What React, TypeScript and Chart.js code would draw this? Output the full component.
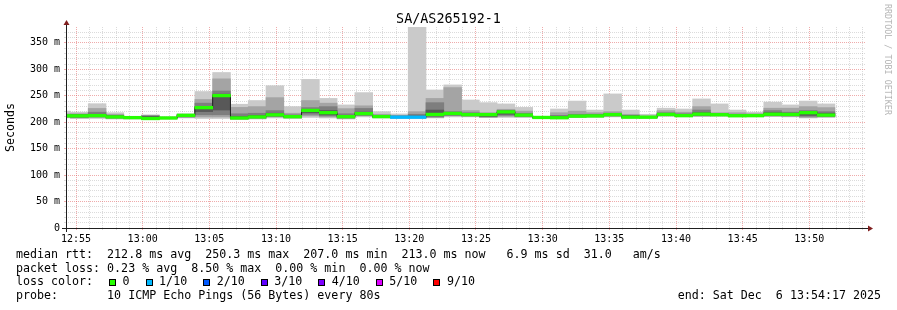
import React, { useEffect, useRef } from 'react';
import { Chart, registerables } from 'chart.js';

Chart.register(...registerables);

// ---------- text ----------
const TITLE = 'SA/AS265192-1';
const Y_AXIS_TITLE = 'Seconds';
const WATERMARK = 'RRDTOOL / TOBI OETIKER';
const statsLine = 'median rtt:  212.8 ms avg  250.3 ms max  207.0 ms min  213.0 ms now   6.9 ms sd  31.0   am/s';
const lossLine = 'packet loss: 0.23 % avg  8.50 % max  0.00 % min  0.00 % now';
const lossColorLabel = 'loss color:';
const probeLine = 'probe:       10 ICMP Echo Pings (56 Bytes) every 80s';
const endLine = 'end: Sat Dec  6 13:54:17 2025';

// ---------- axes ----------
const VIEW_START = '12:54:15';
const VIEW_END = '13:54:15';
const FIRST_BIN_START = '12:53:15';
const BIN_SECONDS = 80;
const xTickLabels = ['12:55', '13:00', '13:05', '13:10', '13:15', '13:20', '13:25', '13:30', '13:35', '13:40', '13:45', '13:50'];
const yTickValues = [0, 50, 100, 150, 200, 250, 300, 350];
const yTickLabels = ['0', '50 m', '100 m', '150 m', '200 m', '250 m', '300 m', '350 m'];
const Y_MAX = 380;

// ---------- data (ms), one entry per 80 s bin ----------
const rttMax = [221, 219, 235, 218, 211, 214, 210, 216, 258, 294, 234, 241, 269, 229.5, 281, 245, 232.7, 256, 220, 215.7, 380, 261, 270.5, 242, 237, 234.6, 228, 211, 225, 240, 223, 253.5, 223, 215, 226.5, 225, 244, 234.6, 223, 219, 238, 232.7, 240, 234.6];
const rtt9 = [216, 216, 226, 215, 210.5, 213, 209.5, 215, 243, 282, 228, 229.5, 246.5, 217, 241, 236, 225.7, 231, 215, 213, 220, 245, 265.5, 222, 218, 224.5, 221, 210.5, 218, 221, 218, 220, 215, 212, 222, 219, 229.5, 218, 218, 216, 226.5, 226.5, 229.5, 227.6];
const rtt8 = [214, 215, 219, 213, 210, 212, 209, 214.5, 236, 259, 216, 217, 222, 214, 227.6, 229.5, 216, 226, 213, 212, 215, 237, 220, 218, 216, 222, 217, 210, 213, 215, 215, 217, 213, 211, 218, 216, 223, 216.5, 215, 215, 222, 219, 222, 220];
const rtt7 = [213, 214, 215, 212, 209.5, 211, 208.5, 214, 230, 253, 211, 213, 217, 212.5, 224, 222, 212, 219, 212, 211, 212, 223, 218, 216, 215, 221, 215, 209.5, 211, 213, 213.5, 215.5, 212, 210.5, 216.5, 214.5, 218, 215.5, 214, 214, 218, 217, 220, 217];
const median = [212, 212, 212.5, 210, 208.7, 207, 208, 213, 227.6, 250.3, 208, 210, 214, 210.5, 222.3, 218, 210.5, 216.3, 210.6, 209.5, 209.5, 214.7, 216.6, 214.4, 214.4, 219.5, 213.5, 209, 208.5, 211.5, 211.9, 214.4, 209.6, 209.5, 214.7, 212.5, 215.3, 214.2, 212.3, 212.5, 215.1, 214.7, 218, 213.5];
const rtt4 = [211, 210, 211, 209, 208, 206.5, 207.5, 211, 220, 223, 207, 209, 212, 209.5, 218, 214, 209, 214, 209.5, 209, 209, 212, 214, 213, 211, 215, 212, 208.5, 208, 210.5, 211, 213, 209, 209, 213.5, 211.5, 213.5, 213, 211.5, 211.5, 213.5, 213, 213, 212];
const rtt3 = [210, 209, 210, 208, 207.5, 206, 207, 210, 214, 214, 206.5, 208, 211, 209, 215, 212, 208, 213, 209, 208.5, 208.5, 210, 213, 212, 210, 213, 211, 208, 207.5, 210, 210.5, 212, 208.5, 208.5, 213, 211, 212.5, 212.5, 211, 211, 212.5, 212, 211, 211];
const rtt2 = [209, 208, 209, 207, 207, 205.5, 206.5, 209, 210, 210, 206, 207, 210, 208, 212, 210, 207, 212, 208.5, 208, 208, 209, 212, 211, 209.5, 211, 210, 207.5, 207, 209.5, 210, 211, 208, 208, 212, 210.5, 211.5, 212, 210.5, 210.5, 211.5, 211, 209, 210];
const rttMin = [208, 207, 207, 206, 206, 205, 206, 208, 207, 207, 205, 206, 208, 207, 209, 208, 206, 210, 208, 207.5, 207.5, 208, 210, 210, 209, 209, 209, 207, 206.5, 209, 209, 210, 207.5, 207.5, 211, 210, 210.5, 211, 210, 210, 210.5, 210, 208, 209];
const lossTenths = [0, 0, 0, 0, 0, 0, 0, 0, 0, 0, 0, 0, 0, 0, 0, 0, 0, 0, 0, 1, 1, 0, 0, 0, 0, 0, 0, 0, 0, 0, 0, 0, 0, 0, 0, 0, 0, 0, 0, 0, 0, 0, 0, 0];

const lossLegendLabels = ['0', '1/10', '2/10', '3/10', '4/10', '5/10', '9/10'];
const lossLegendTenths = [0, 1, 2, 3, 4, 5, 9];
const lossColors: Record<number, string> = {
  0: '#26ff00', 1: '#00b8ff', 2: '#0059ff', 3: '#5e00ff', 4: '#7e00ff', 5: '#dd00ff', 9: '#ff0000',
};

// ---------- styles ----------
const MONO = "'DejaVu Sans Mono', monospace";
const MINOR_GRID = 'rgba(143,143,143,0.32)';
const MAJOR_GRID = 'rgba(222,79,79,0.48)';
const AXIS_COLOR = 'rgb(31,31,31)';
const ARROW_COLOR = 'rgb(128,31,31)';
const SMOKE_COLORS = ['#cacaca', '#a4a4a4', '#7e7e7e', '#585858'];
const MEDIAN_BAND = 2.5; // half height of the loss-coloured median band, in ms
const LEGEND_FONT = 11.65;
const CHAR_W = LEGEND_FONT * 0.6021;

function toSec(t: string): number {
  const [h, m, s = '0'] = t.split(':');
  return Number(h) * 3600 + Number(m) * 60 + Number(s);
}

const axisPlugin = {
  id: 'rrdAxes',
  afterDraw(chart: any) {
    const { ctx, chartArea } = chart;
    const { left, right, top, bottom } = chartArea;
    const yb = Math.round(bottom) + 0.5;
    const xl = Math.round(left) + 0.5;
    ctx.save();
    ctx.strokeStyle = AXIS_COLOR;
    ctx.lineWidth = 1;
    ctx.beginPath();
    ctx.moveTo(left - 4, yb);
    ctx.lineTo(right + 4, yb);
    ctx.moveTo(xl, bottom + 4);
    ctx.lineTo(xl, top - 4);
    ctx.stroke();
    ctx.fillStyle = ARROW_COLOR;
    ctx.beginPath();
    ctx.moveTo(right + 2, yb - 3);
    ctx.lineTo(right + 2, yb + 3);
    ctx.lineTo(right + 7, yb);
    ctx.closePath();
    ctx.fill();
    ctx.beginPath();
    ctx.moveTo(xl - 3, top - 2);
    ctx.lineTo(xl + 3, top - 2);
    ctx.lineTo(xl, top - 7);
    ctx.closePath();
    ctx.fill();
    ctx.restore();
  },
};

export default function App() {
  const canvasRef = useRef<HTMLCanvasElement>(null);

  useEffect(() => {
    const canvas = canvasRef.current;
    if (!canvas) return;
    const xMin = toSec(VIEW_START);
    const xMax = toSec(VIEW_END);
    const binStart = toSec(FIRST_BIN_START);
    const binX = median.map((_, i) => binStart + BIN_SECONDS * i + BIN_SECONDS / 2);
    const majorX = xTickLabels.map(toSec);
    const minorX: number[] = [];
    for (let t = majorX[0]; t < xMax; t += 60) minorX.push(t);
    const minorY: number[] = [];
    for (let v = 0; v < Y_MAX; v += 10) minorY.push(v);

    const layers = [
      { lo: rttMin, hi: rttMax },
      { lo: rtt2, hi: rtt9 },
      { lo: rtt3, hi: rtt8 },
      { lo: rtt4, hi: rtt7 },
    ];
    const barCommon = {
      type: 'bar' as const,
      xAxisID: 'xb',
      yAxisID: 'y',
      grouped: false,
      barPercentage: 1,
      categoryPercentage: 1,
      borderWidth: 0,
    };
    const datasets: any[] = layers.map((l, k) => ({
      ...barCommon,
      label: `smoke ${k + 1}`,
      data: binX.map((x, i) => ({ x, y: [l.lo[i], l.hi[i]] })),
      backgroundColor: SMOKE_COLORS[k],
      order: 10 - k,
    }));
    datasets.push({
      type: 'line',
      label: 'median',
      xAxisID: 'xb',
      yAxisID: 'y',
      data: binX.map((x, i) => ({ x, y: median[i] })),
      stepped: 'middle',
      borderColor: '#202020',
      borderWidth: 1,
      pointRadius: 0,
      fill: false,
      order: 2,
    });
    datasets.push({
      ...barCommon,
      label: 'median loss',
      data: binX.map((x, i) => ({ x, y: [median[i] - MEDIAN_BAND, median[i] + MEDIAN_BAND] })),
      backgroundColor: lossTenths.map((l) => lossColors[l]),
      order: 1,
    });

    const isMajorX = (v: number) => majorX.indexOf(v) >= 0;
    const gridColorX = (ctx: any) => (ctx.tick && isMajorX(ctx.tick.value) ? MAJOR_GRID : MINOR_GRID);
    const gridColorY = (ctx: any) => (ctx.tick && yTickValues.indexOf(ctx.tick.value) >= 0 ? MAJOR_GRID : MINOR_GRID);

    const chart = new Chart(canvas, {
      type: 'bar',
      data: { datasets },
      plugins: [axisPlugin],
      options: {
        animation: false,
        responsive: false,
        devicePixelRatio: 1,
        events: [],
        layout: { padding: { left: 0, right: 31, top: 27, bottom: 62 } },
        plugins: { legend: { display: false }, tooltip: { enabled: false }, title: { display: false } },
        scales: {
          x: {
            type: 'linear',
            position: 'bottom',
            min: xMin,
            max: xMax,
            offset: false,
            z: 1,
            afterBuildTicks: (s: any) => { s.ticks = minorX.map((value) => ({ value })); },
            afterFit: (s: any) => { s.height = 20; },
            ticks: {
              autoSkip: false,
              maxRotation: 0,
              minRotation: 0,
              padding: 3,
              color: '#000',
              font: { family: MONO, size: 10 },
              callback: (v: any) => {
                const i = majorX.indexOf(Number(v));
                return i >= 0 ? xTickLabels[i] : '';
              },
            },
            grid: { offset: false, color: gridColorX, lineWidth: 1, drawTicks: true, tickLength: 2 },
            border: { display: false, dash: [1, 1] },
          },
          xb: {
            type: 'linear',
            min: xMin,
            max: xMax,
            display: false,
            offset: false,
            grid: { offset: false },
            ticks: { stepSize: 3600 },
          },
          y: {
            type: 'linear',
            position: 'left',
            min: 0,
            max: Y_MAX,
            z: 1,
            afterBuildTicks: (s: any) => { s.ticks = minorY.map((value) => ({ value })); },
            afterFit: (s: any) => { s.width = 66; },
            ticks: {
              autoSkip: false,
              padding: 4,
              color: '#000',
              font: { family: MONO, size: 10 },
              callback: (v: any) => {
                const i = yTickValues.indexOf(Number(v));
                return i >= 0 ? yTickLabels[i] : '';
              },
            },
            grid: { color: gridColorY, lineWidth: 1, drawTicks: true, tickLength: 2 },
            border: { display: false, dash: [1, 1] },
            title: {
              display: true,
              text: Y_AXIS_TITLE,
              color: '#000',
              font: { family: MONO, size: LEGEND_FONT },
              padding: { top: 4, bottom: 0 },
            },
          },
        },
      } as any,
    });
    return () => chart.destroy();
  }, []);

  const lineStyle = (top: number): React.CSSProperties => ({
    position: 'absolute',
    left: 16,
    top,
    fontSize: LEGEND_FONT,
    lineHeight: '14px',
    whiteSpace: 'pre',
  });

  // loss colour legend items laid out sequentially
  const lossItems: { boxX: number; labelX: number; label: string; color: string }[] = [];
  let cx = 109;
  lossLegendLabels.forEach((label, i) => {
    lossItems.push({ boxX: cx, labelX: cx + 13.6, label, color: lossColors[lossLegendTenths[i]] });
    cx += 13.6 + label.length * CHAR_W + 15.9;
  });

  return (
    <div
      style={{
        position: 'absolute',
        left: 0,
        top: 0,
        width: 897,
        height: 310,
        background: '#fff',
        fontFamily: MONO,
        color: '#000',
        overflow: 'hidden',
      }}
    >
      <canvas ref={canvasRef} width={897} height={310} style={{ position: 'absolute', left: 0, top: 0 }} />
      <div
        style={{
          position: 'absolute',
          left: 0,
          top: 11.4,
          width: 897,
          textAlign: 'center',
          fontSize: 13.4,
          lineHeight: '16px',
          whiteSpace: 'pre',
        }}
      >
        {TITLE}
      </div>
      <div
        style={{
          position: 'absolute',
          left: 893,
          top: 4,
          fontSize: 8.4,
          lineHeight: '10px',
          color: '#b5b5b5',
          whiteSpace: 'pre',
          transform: 'rotate(90deg)',
          transformOrigin: '0 0',
        }}
      >
        {WATERMARK}
      </div>
      <div style={lineStyle(247.3)}>{statsLine}</div>
      <div style={lineStyle(260.7)}>{lossLine}</div>
      <div style={lineStyle(274.2)}>{lossColorLabel}</div>
      {lossItems.map((it) => (
        <React.Fragment key={it.label}>
          <div
            style={{
              position: 'absolute',
              left: it.boxX,
              top: 279,
              width: 7,
              height: 7,
              boxSizing: 'border-box',
              border: '1px solid #000',
              background: it.color,
            }}
          />
          <div style={{ ...lineStyle(274.2), left: it.labelX }}>{it.label}</div>
        </React.Fragment>
      ))}
      <div style={lineStyle(287.5)}>{probeLine}</div>
      <div style={{ ...lineStyle(287.5), left: undefined, right: 16 }}>{endLine}</div>
    </div>
  );
}
